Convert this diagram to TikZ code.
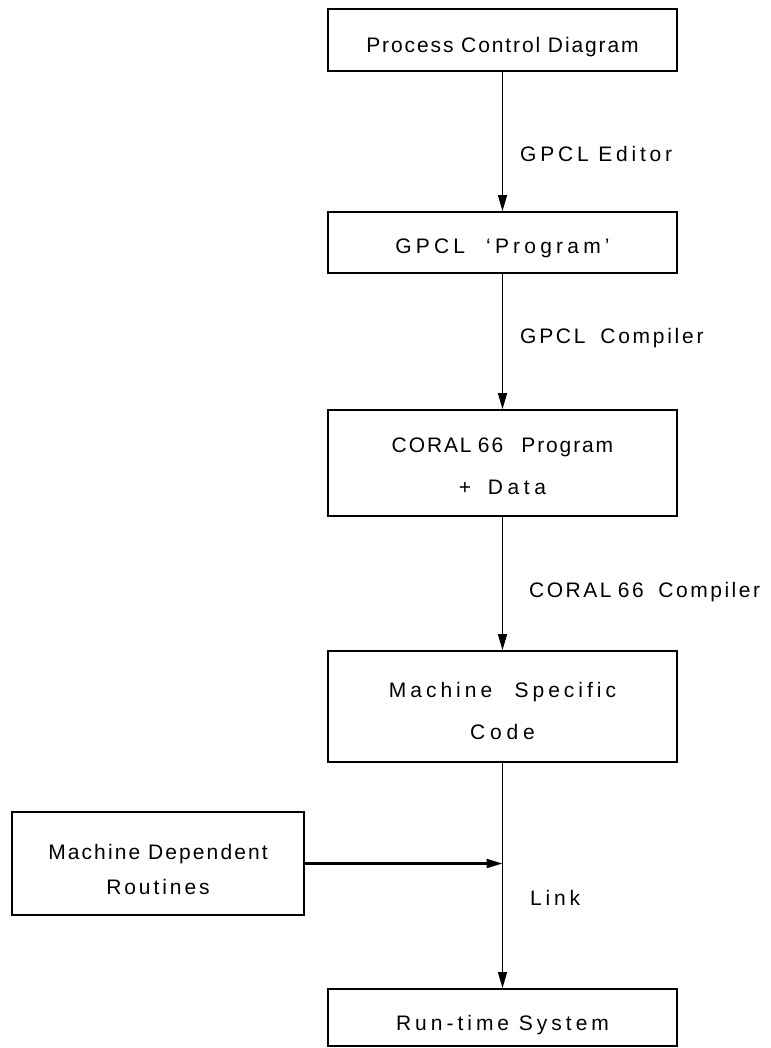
\documentclass[tikz,border=0pt]{standalone}
\usepackage{fontspec}
\setmainfont{Liberation Sans}
\usetikzlibrary{arrows.meta}
\newcommand\ls[2]{{\addfontfeature{LetterSpace=#1}#2}}
\newcommand\tx[2]{\raisebox{-#1}[\height][\depth]{\begin{tabular}{@{}c@{}}#2\end{tabular}}}
\begin{document}
\begin{tikzpicture}[x=1pt,y=-1pt,
  box/.style={draw, line width=1.8pt, minimum width=349pt, inner sep=0pt,
    font=\fontsize{21}{42}\selectfont},
  lab/.style={anchor=base west, inner sep=0pt, font=\fontsize{21}{24}\selectfont},
  flow/.style={line width=1.4pt, -{Triangle[length=16pt,width=9pt]}}]
\path[use as bounding box, clip] (0,0) rectangle (770,1048);
\node[box, minimum height=62pt] (pcd) at (502.5,40)
  {\tx{4pt}{\ls{9}{Process Control Diagram}}};
\node[box, minimum height=61pt] (prog) at (502.5,242.5)
  {\tx{2.6pt}{\ls{20}{GPCL\hspace{1em}`Program'}}};
\node[box, minimum height=106pt] (coral) at (502.5,463)
  {\tx{2pt}{\ls{9}{CORAL\hspace{0.3em}66\hspace{0.5em} Program}\\\ls{22}{+\hspace{0.3em} Data}}};
\node[box, minimum height=111pt] (code) at (502.5,706.5)
  {\tx{3.6pt}{\ls{19}{Machine\hspace{0.6em} Specific}\\\ls{23}{Code}}};
\node[box, minimum width=292pt, minimum height=103pt, font=\fontsize{21}{35}\selectfont] (mdr) at (158,863.5)
  {\tx{6pt}{\ls{10}{Machine Dependent}\\\ls{14}{Routines}}};
\node[box, minimum height=57pt] (rts) at (502.5,1017.5)
  {\tx{4.6pt}{\ls{19}{Run-time System}}};
\coordinate (j) at (code.south |- mdr.east);
\draw[flow] (pcd) -- (prog);
\draw[flow] (prog) -- (coral);
\draw[flow] (coral) -- (code);
\draw[flow] (code) -- (rts);
\draw[flow, line width=2.2pt] (mdr) -- (j);
\node[lab] (l1) at (520,162) {\ls{18}{GPCL Editor}};
\node[lab] (l2) at (520,343) {\ls{13}{GPCL\hspace{0.3em} Compiler}};
\node[lab] (l3) at (529,597) {\ls{12}{CORAL\hspace{0.3em}66\hspace{0.3em} Compiler}};
\node[lab] (l4) at (530,905) {\ls{18}{Link}};
\end{tikzpicture}
\end{document}
